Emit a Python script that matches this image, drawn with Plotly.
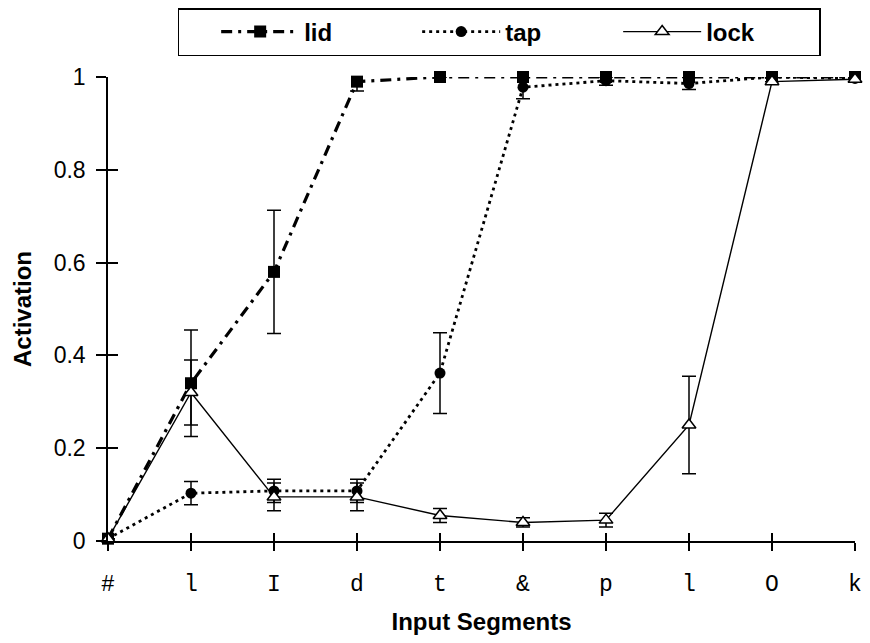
import plotly.graph_objects as go

segments = ["#", "l", "I", "d", "t", "&", "p", "l", "O", "k"]
x_pos = list(range(len(segments)))

lid = [0.005, 0.34, 0.58, 0.99, 1.0, 1.0, 1.0, 1.0, 1.0, 1.0]
lid_err = [0.0, 0.115, 0.133, 0.02, 0.0, 0.0, 0.0, 0.0, 0.0, 0.0]

tap = [0.005, 0.103, 0.108, 0.108, 0.362, 0.978, 0.992, 0.986, 1.0, 0.997]
tap_err = [0.0, 0.025, 0.025, 0.025, 0.087, 0.025, 0.01, 0.013, 0.0, 0.0]

lock = [0.005, 0.32, 0.095, 0.095, 0.055, 0.04, 0.045, 0.25, 0.99, 0.995]
lock_err = [0.0, 0.07, 0.03, 0.03, 0.015, 0.01, 0.015, 0.105, 0.0, 0.0]

y_ticks = [0, 0.2, 0.4, 0.6, 0.8, 1]
y_tick_text = ["0", "0.2", "0.4", "0.6", "0.8", "1"]

fig = go.Figure()

def err(vals):
    return dict(type="data", array=vals, visible=True, color="black",
                thickness=1.5, width=7)

fig.add_trace(go.Scatter(
    x=x_pos, y=lid, name="lid", mode="lines+markers",
    line=dict(color="black", width=3.2, dash="11px,6px,3px,6px"),
    marker=dict(symbol="square", size=12, color="black"),
    error_y=err(lid_err), cliponaxis=False))

fig.add_trace(go.Scatter(
    x=x_pos, y=tap, name="tap", mode="lines+markers",
    line=dict(color="black", width=2.8, dash="3px,4px"),
    marker=dict(symbol="circle", size=11, color="black"),
    error_y=err(tap_err), cliponaxis=False))

fig.add_trace(go.Scatter(
    x=x_pos, y=lock, name="lock", mode="lines+markers",
    line=dict(color="black", width=1.4),
    marker=dict(symbol="triangle-up", size=12, color="white",
                line=dict(color="black", width=1.5)),
    error_y=err(lock_err), cliponaxis=False))

# invisible trace on overlay axes so they render (crossing ticks)
fig.add_trace(go.Scatter(x=[0], y=[0], xaxis="x2", yaxis="y2",
                         mode="markers", marker=dict(opacity=0),
                         showlegend=False, hoverinfo="skip"))

fig.update_layout(
    width=870, height=643,
    margin=dict(l=108, r=15, t=77, b=102, autoexpand=False),
    plot_bgcolor="white", paper_bgcolor="white",
    font=dict(family="Liberation Sans, Arial", color="black"),
    showlegend=True,
    legend=dict(
        orientation="h", x=0.0937, xanchor="left", y=1.1487, yanchor="top",
        bordercolor="black", borderwidth=1.5,
        font=dict(family="Liberation Sans, Arial", size=24, color="black",
                  weight="bold"),
        title=dict(text="\u00a0\u00a0\u00a0\u00a0", font=dict(size=24)),
        entrywidth=108, itemwidth=78,
    ),
    xaxis=dict(
        range=[0, 9], tickmode="array", tickvals=x_pos, ticktext=segments,
        showgrid=False, zeroline=False, showline=True, linecolor="black",
        linewidth=1.5, ticks="outside", ticklen=8, tickwidth=1.5,
        tickcolor="black",
        tickfont=dict(family="Liberation Mono, Courier New", size=23),
        ticklabelstandoff=13,
        title=dict(text="<b>Input Segments</b>", standoff=16,
                   font=dict(size=24)),
        automargin=False,
    ),
    yaxis=dict(
        range=[0, 1], tickmode="array", tickvals=y_ticks, ticktext=y_tick_text,
        showgrid=False, zeroline=False, showline=True, linecolor="black",
        linewidth=1.5, ticks="outside", ticklen=10, tickwidth=1.5,
        tickcolor="black", tickfont=dict(size=23),
        ticklabelstandoff=6,
        title=dict(text="<b>Activation</b>", standoff=15, font=dict(size=24)),
        automargin=False,
    ),
    xaxis2=dict(
        overlaying="x", anchor="y2", range=[0, 9], tickmode="array",
        tickvals=x_pos, showticklabels=False, ticks="inside", ticklen=8,
        tickwidth=1.5, tickcolor="black", showgrid=False, zeroline=False,
        showline=False,
    ),
    yaxis2=dict(
        overlaying="y", anchor="x2", side="left", range=[0, 1],
        tickmode="array", tickvals=y_ticks, showticklabels=False,
        ticks="inside", ticklen=10, tickwidth=1.5, tickcolor="black",
        showgrid=False, zeroline=False, showline=False,
    ),
)

fig.write_html("out.html",
               config={"displayModeBar": False},
               post_script="document.body.style.margin='0';")
